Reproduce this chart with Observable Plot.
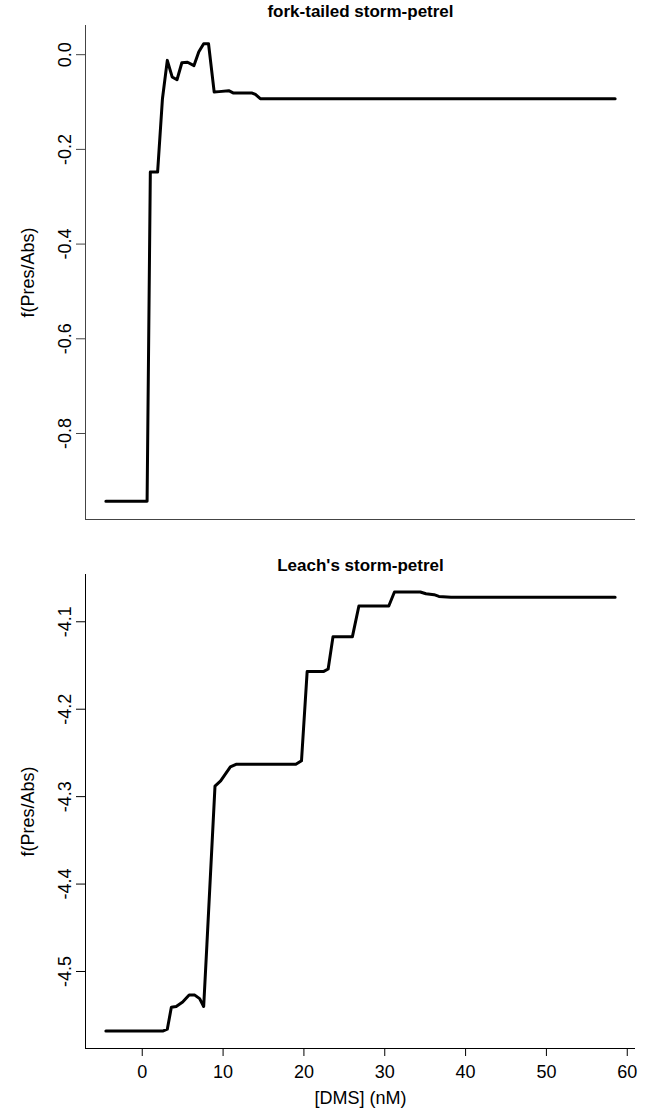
<!DOCTYPE html>
<html><head><meta charset="utf-8">
<script src="https://cdn.jsdelivr.net/npm/d3@7"></script>
<script src="https://cdn.jsdelivr.net/npm/@observablehq/plot@0.6"></script>
<style>
html,body{margin:0;padding:0;background:#fff;}
#chart{width:647px;}
#chart svg{display:block;}
</style></head><body><div id="chart"></div>
<script>
const xTicks = [0, 10, 20, 30, 40, 50, 60];
const forkTicks = [0.0, -0.2, -0.4, -0.6, -0.8];
const leachTicks = [-4.1, -4.2, -4.3, -4.4, -4.5];
const panelTitles = ["fork-tailed storm-petrel", "Leach's storm-petrel"];
const yLabel = "f(Pres/Abs)";
const xLabel = "[DMS] (nM)";

const forkX = [-4.5, 0.6, 1.0, 1.9, 2.5, 3.1, 3.7, 4.3, 4.9, 5.6, 6.4, 7.0, 7.6, 8.2, 8.9, 9.5, 10.7, 11.3, 13.6, 14.0, 14.6, 58.5];
const forkY = [-0.943, -0.943, -0.248, -0.248, -0.093, -0.012, -0.047, -0.053, -0.017, -0.016, -0.023, 0.006, 0.023, 0.023, -0.079, -0.078, -0.076, -0.081, -0.081, -0.084, -0.093, -0.093];

const leachX = [-4.5, 2.6, 3.1, 3.6, 4.2, 5.0, 5.8, 6.5, 7.1, 7.6, 8.0, 9.0, 9.7, 10.9, 11.6, 19.0, 19.7, 20.4, 22.4, 23.0, 23.6, 26.0, 26.8, 30.5, 31.2, 34.4, 35.1, 36.1, 36.7, 38.2, 58.5];
const leachY = [-4.568, -4.568, -4.566, -4.541, -4.540, -4.535, -4.527, -4.527, -4.531, -4.540, -4.469, -4.288, -4.282, -4.266, -4.263, -4.263, -4.259, -4.157, -4.157, -4.154, -4.117, -4.117, -4.082, -4.082, -4.066, -4.066, -4.068, -4.069, -4.071, -4.072, -4.072];

const font = "'Liberation Sans', Arial, Helvetica, sans-serif";
const pad = ([a, b]) => { const d = (b - a) * 0.04; return [a - d, b + d]; };
const xDom = pad(d3.extent(forkX.concat(leachX)));

function panel({xs, ys, title, yTicks, showX, marginTop, marginBottom, titleDy, axisColor}) {
  const data = xs.map((x, i) => ({x, y: ys[i]}));
  const yDom = pad(d3.extent(ys));
  const marks = [
    Plot.ruleX([xDom[0]], {stroke: axisColor, strokeWidth: 1}),
    Plot.ruleY([yDom[0]], {stroke: axisColor, strokeWidth: 1}),
    Plot.axisY(yTicks, {anchor: "left", tickSize: 9, tickPadding: 6, tickRotate: -90,
      tickFormat: d => d.toFixed(1), label: null, fontSize: 18, stroke: axisColor}),
    Plot.line(data, {x: "x", y: "y", stroke: "black", strokeWidth: 3,
      strokeLinejoin: "round", strokeLinecap: "round"}),
    Plot.text([title], {text: d => d, frameAnchor: "top", dy: titleDy, lineAnchor: "middle",
      textAnchor: "middle", fontWeight: "bold", fontSize: 17}),
    Plot.text([yLabel], {text: d => d, frameAnchor: "left", dx: -57, rotate: -90,
      textAnchor: "middle", lineAnchor: "middle", fontSize: 18})
  ];
  if (showX) {
    marks.push(Plot.axisX(xTicks, {anchor: "bottom", tickSize: 8, tickPadding: 9,
      tickFormat: d => String(d), label: null, fontSize: 18, stroke: axisColor}));
    marks.push(Plot.text([xLabel], {text: d => d, frameAnchor: "bottom", dy: 50,
      textAnchor: "middle", lineAnchor: "middle", fontSize: 18}));
  }
  return Plot.plot({
    width: 647, height: 555,
    marginLeft: 85, marginRight: 12, marginTop, marginBottom,
    x: showX ? {domain: xDom} : {domain: xDom, axis: null},
    y: {domain: yDom},
    style: {fontFamily: font, fontSize: "18px", background: "white", color: "black", overflow: "visible"},
    marks
  });
}

const root = document.getElementById("chart");
root.append(panel({xs: forkX, ys: forkY, title: panelTitles[0], yTicks: forkTicks,
  showX: false, marginTop: 25, marginBottom: 36, titleDy: -14, axisColor: "#444"}));
root.append(panel({xs: leachX, ys: leachY, title: panelTitles[1], yTicks: leachTicks,
  showX: true, marginTop: 19, marginBottom: 62, titleDy: -9, axisColor: "black"}));
</script></body></html>
